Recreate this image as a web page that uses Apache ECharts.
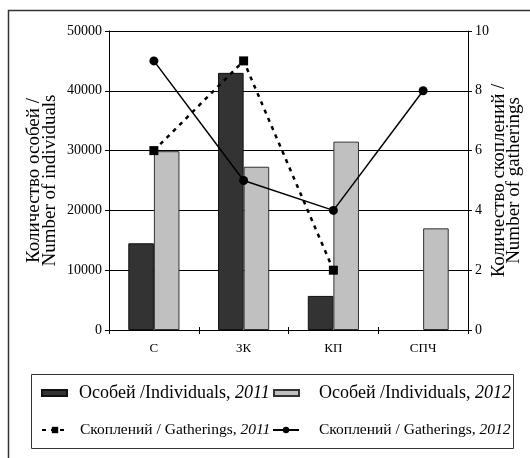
<!DOCTYPE html>
<html><head><meta charset="utf-8">
<script src="https://cdn.jsdelivr.net/npm/echarts@6/dist/echarts.min.js"></script>
<style>html,body{margin:0;padding:0;background:#fff}#c{width:530px;height:458px}</style>
</head><body><div id="c"></div>
<script>
const categories = ['С', 'ЗК', 'КП', 'СПЧ'];
const individuals2011 = [14500, 43000, 5700, null];
const individuals2012 = [29900, 27300, 31500, 17000];
const gatherings2011 = [6, 9, 2, null];
const gatherings2012 = [9, 5, 4, 8];
const leftTicks = { min: 0, max: 50000, interval: 10000 };
const rightTicks = { min: 0, max: 10, interval: 2 };
const names = ['Особей /Individuals, 2011', 'Особей /Individuals, 2012', 'Скоплений / Gatherings, 2011', 'Скоплений / Gatherings, 2012'];

const serif = '"Liberation Serif", "Times New Roman", serif';
const chart = echarts.init(document.getElementById('c'));
function legend(name, left, top, w, h, fs, pad) {
  return {
    data: [name], left: left, top: top, itemWidth: w, itemHeight: h, padding: 0,
    textStyle: { fontFamily: serif, fontSize: fs, color: '#000', padding: [0, 0, 0, pad],
      rich: { i: { fontFamily: serif, fontSize: fs, fontStyle: 'italic', color: '#000' } } },
    formatter: n => { const p = n.split(', '); return p[0] + ', {i|' + p[1] + '}'; }
  };
}
chart.setOption({
  animation: false,
  backgroundColor: '#fff',
  graphic: [
    { type: 'rect', shape: { x: 8.5, y: 10.5, width: 540, height: 470 }, style: { fill: 'none', stroke: '#333', lineWidth: 1.5 }, silent: true },
    { type: 'rect', shape: { x: 31.5, y: 374.5, width: 482, height: 74 }, style: { fill: 'none', stroke: '#333', lineWidth: 1 }, silent: true }
  ],
  legend: [
    Object.assign(legend(names[0], 41, 384, 25, 6, 18, 7), { icon: 'rect' }),
    Object.assign(legend(names[1], 273, 384, 25, 6, 18, 15), { icon: 'rect' }),
    legend(names[2], 41, 422, 26, 8, 15.5, 7),
    legend(names[3], 272, 422, 26, 8, 15.5, 15)
  ],
  grid: { left: 109, right: 62, top: 31, bottom: 128, outerBoundsMode: 'none', containLabel: false },
  xAxis: [
    {
      type: 'category', data: categories, position: 'bottom',
      axisLine: { lineStyle: { color: '#000', width: 1 } },
      axisTick: { show: true, length: 4, lineStyle: { color: '#000' } },
      axisLabel: { fontFamily: serif, fontSize: 13, color: '#000', margin: 12 }
    },
    {
      type: 'category', data: categories, position: 'bottom', offset: 0,
      axisLine: { show: false },
      axisTick: { show: true, inside: true, length: 3, lineStyle: { color: '#000' } },
      axisLabel: { show: false }, splitLine: { show: false }
    }
  ],
  yAxis: [
    {
      type: 'value', min: leftTicks.min, max: leftTicks.max, interval: leftTicks.interval,
      name: 'Количество особей /\nNumber of individuals', nameLocation: 'middle', nameGap: 51, nameRotate: 90,
      nameMoveOverlap: false,
      nameTextStyle: { fontFamily: serif, fontSize: 19, color: '#000', lineHeight: 16 },
      axisLine: { show: true, lineStyle: { color: '#000' } },
      axisTick: { show: true, length: 4, lineStyle: { color: '#000' } },
      axisLabel: { fontFamily: serif, fontSize: 14, color: '#000', margin: 7, formatter: v => String(v) },
      splitLine: { show: true, lineStyle: { color: '#000', width: 1 } }
    },
    {
      type: 'value', min: rightTicks.min, max: rightTicks.max, interval: rightTicks.interval, position: 'right',
      name: 'Количество скоплений /\nNumber of gatherings', nameLocation: 'middle', nameGap: 24, nameRotate: 90,
      nameMoveOverlap: false,
      nameTextStyle: { fontFamily: serif, fontSize: 19, color: '#000', lineHeight: 15 },
      axisLine: { show: true, lineStyle: { color: '#000' } },
      axisTick: { show: true, length: 4, lineStyle: { color: '#000' } },
      axisLabel: { fontFamily: serif, fontSize: 14, color: '#000', margin: 7, formatter: v => String(v) },
      splitLine: { show: false }
    }
  ],
  series: [
    { name: names[0], type: 'bar', data: individuals2011, barGap: '0%', barCategoryGap: '43%',
      itemStyle: { color: '#333333', borderColor: '#111', borderWidth: 1 } },
    { name: names[1], type: 'bar', data: individuals2012,
      itemStyle: { color: '#c0c0c0', borderColor: '#333', borderWidth: 1 } },
    { name: names[2], type: 'line', yAxisIndex: 1, data: gatherings2011, symbol: 'rect', symbolSize: 9,
      lineStyle: { color: '#000', width: 2.5, type: [4, 5] }, itemStyle: { color: '#000' }, z: 5 },
    { name: names[3], type: 'line', yAxisIndex: 1, data: gatherings2012, symbol: 'circle', symbolSize: 9,
      lineStyle: { color: '#000', width: 1.5 }, itemStyle: { color: '#000' }, z: 5 }
  ]
});
</script></body></html>
